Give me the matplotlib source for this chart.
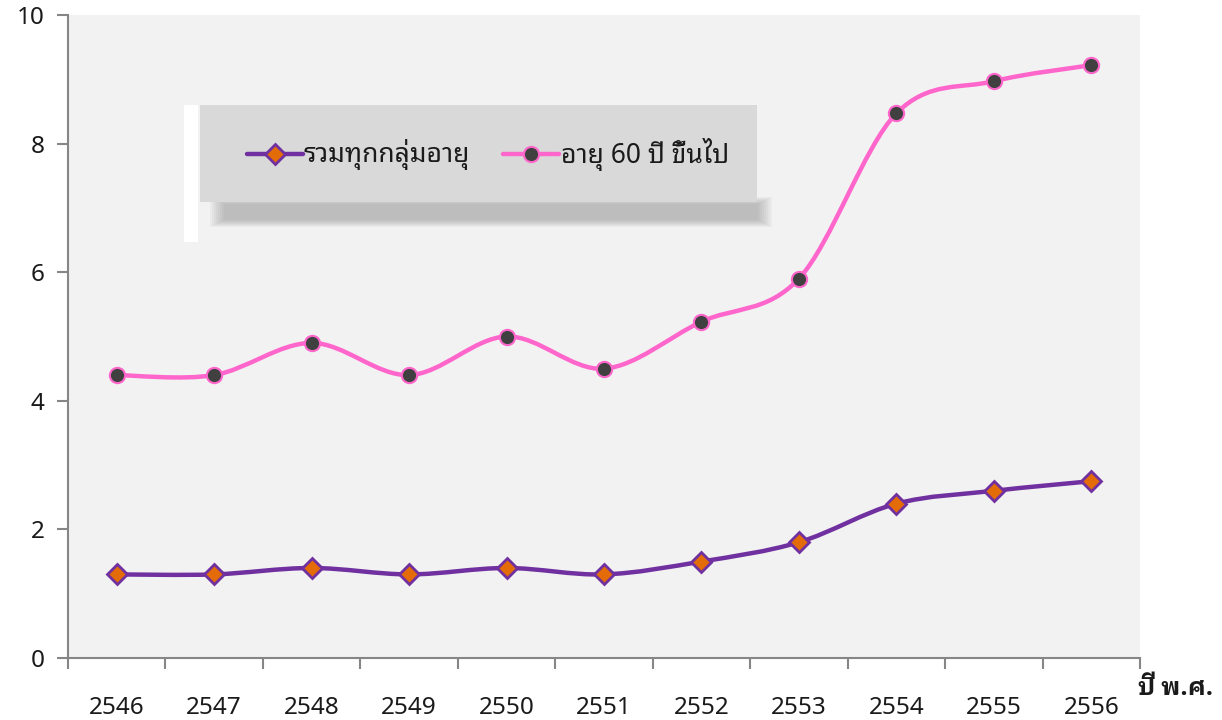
import matplotlib
matplotlib.use("Agg")
import matplotlib.pyplot as plt
from matplotlib.path import Path
from matplotlib.patches import PathPatch, Rectangle
from matplotlib.lines import Line2D

plt.rcParams['font.family'] = ['Noto Sans Thai Looped', 'DejaVu Sans']

years = ['2546', '2547', '2548', '2549', '2550', '2551', '2552', '2553', '2554', '2555', '2556']
all_ages = [1.3, 1.3, 1.4, 1.3, 1.4, 1.3, 1.5, 1.8, 2.4, 2.6, 2.75]
age60 = [4.4, 4.4, 4.9, 4.4, 5.0, 4.5, 5.23, 5.9, 8.47, 8.97, 9.22]
label_all = 'รวมทุกกลุ่มอายุ'
label_60 = 'อายุ 60 ปี ขึ้นไป'
xlabel = 'ปี พ.ศ.'


def smooth_path(xs, ys):
    # excel-like smoothed line: bezier segments with catmull-rom handles
    n = len(xs)
    verts = [(xs[0], ys[0])]
    codes = [Path.MOVETO]
    for i in range(n - 1):
        p0 = max(i - 1, 0)
        p3 = min(i + 2, n - 1)
        c1 = (xs[i] + (xs[i + 1] - xs[p0]) / 6, ys[i] + (ys[i + 1] - ys[p0]) / 6)
        c2 = (xs[i + 1] - (xs[p3] - xs[i]) / 6, ys[i + 1] - (ys[p3] - ys[i]) / 6)
        verts += [c1, c2, (xs[i + 1], ys[i + 1])]
        codes += [Path.CURVE4] * 3
    return Path(verts, codes)


purple = '#7030A0'
orange = '#E36C09'
pink = '#FF66CC'
dark = '#404040'
axis_gray = '#868686'
txt = '#1a1a1a'

fig = plt.figure(figsize=(12.22, 7.2), dpi=100)
ax = fig.add_axes([68 / 1222, 62 / 720, 1072 / 1222, 643 / 720])
ax.set_facecolor('#F2F2F2')

x = list(range(len(years)))
ax.add_patch(PathPatch(smooth_path(x, all_ages), fill=False, ec=purple, lw=3.2, capstyle='round', zorder=3))
ax.add_patch(PathPatch(smooth_path(x, age60), fill=False, ec=pink, lw=3.2, capstyle='round', zorder=3))
ax.plot(x, all_ages, ls='none', marker='D', ms=10, mfc=orange, mec=purple, mew=2, zorder=4)
ax.plot(x, age60, ls='none', marker='o', ms=11, mfc=dark, mec=pink, mew=1.5, zorder=4)

ax.set_xlim(-0.5, len(years) - 0.5)
ax.set_ylim(0, 10)
ax.set_yticks([0, 2, 4, 6, 8, 10])
ax.set_xticks([i - 0.5 for i in range(len(years) + 1)])
ax.set_xticklabels([])
ax.set_xticks(x, minor=True)
ax.set_xticklabels(years, minor=True)
ax.tick_params(axis='x', which='major', length=8, width=1.5, color=axis_gray)
ax.tick_params(axis='x', which='minor', length=0, pad=27, labelsize=17.5, labelcolor=txt)
ax.tick_params(axis='y', length=8, width=1.5, color=axis_gray, labelsize=17.5, labelcolor=txt, pad=9)
for s in ['top', 'right']:
    ax.spines[s].set_visible(False)
for s in ['left', 'bottom']:
    ax.spines[s].set_color(axis_gray)
    ax.spines[s].set_linewidth(1.5)

fig.text(1138 / 1222, 1 - 688 / 720, xlabel, fontsize=17.5, fontweight='bold', va='center', ha='left',
         color=txt, family=['IBM Plex Sans Thai Looped', 'DejaVu Sans'])


# legend box with shadow
def fx(px):
    return px / 1222


def fy(py):
    return 1 - py / 720


for k in range(8):
    g = 8 - k
    fig.add_artist(Rectangle((fx(208 + 2 * g), fy(228 - g)), fx(566 - 4 * g), (24 - 2 * g) / 720 + 8 / 720,
                             transform=fig.transFigure, fc='#707070', ec='none', alpha=0.06, zorder=5))
fig.add_artist(Rectangle((fx(184), fy(242)), fx(14), 137 / 720, transform=fig.transFigure,
                         fc='white', ec='none', zorder=6))
fig.add_artist(Rectangle((fx(200), fy(202)), fx(557), 97 / 720, transform=fig.transFigure,
                         fc='#D9D9D9', ec='none', zorder=6))
ly = fy(154)
fig.add_artist(Line2D([fx(247), fx(303)], [ly, ly], transform=fig.transFigure, color=purple, lw=3.2,
                      solid_capstyle='round', zorder=7))
fig.add_artist(Line2D([fx(275)], [ly], transform=fig.transFigure, ls='none', marker='D', ms=10,
                      mfc=orange, mec=purple, mew=2, zorder=8))
fig.text(fx(304), ly, label_all, fontsize=19, va='center', ha='left', color=txt, zorder=8)
fig.add_artist(Line2D([fx(503), fx(559)], [ly, ly], transform=fig.transFigure, color=pink, lw=3.2,
                      solid_capstyle='round', zorder=7))
fig.add_artist(Line2D([fx(531)], [ly], transform=fig.transFigure, ls='none', marker='o', ms=11,
                      mfc=dark, mec=pink, mew=1.5, zorder=8))
fig.text(fx(561), ly, label_60, fontsize=19, va='center', ha='left', color=txt, zorder=8)

fig.savefig('out.png', dpi=100)
